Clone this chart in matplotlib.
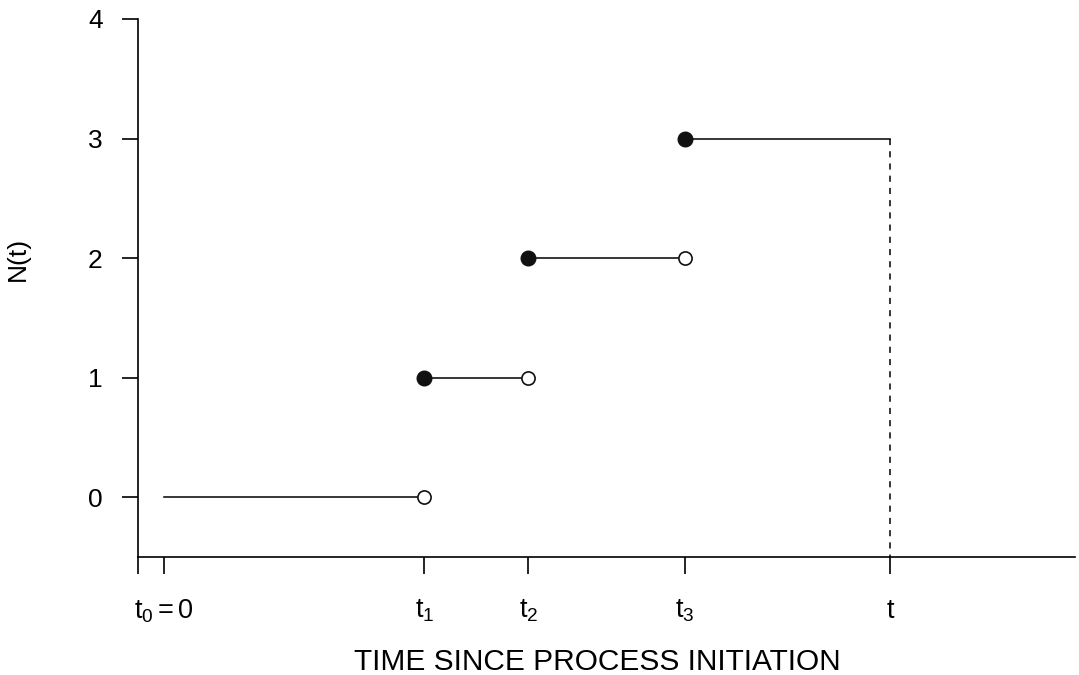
import matplotlib
matplotlib.use('Agg')
import matplotlib.pyplot as plt

plt.rcParams['font.family'] = ['Liberation Sans', 'DejaVu Sans']
plt.rcParams['mathtext.fontset'] = 'custom'
plt.rcParams['mathtext.rm'] = 'Liberation Sans'
plt.rcParams['mathtext.it'] = 'Liberation Sans'

# event times and counts
event_times = [0, 10, 14, 20]
counts = [0, 1, 2, 3]
t_obs = 27.9
x_ticks = [-1, 0, 10, 14, 20, 27.9]
x_labels = ['', r'$\mathregular{t_0 = 0}$', r'$\mathregular{t_1}$', r'$\mathregular{t_2}$',
            r'$\mathregular{t_3}$', r'$\mathregular{t}$']
y_ticks = [0, 1, 2, 3, 4]

fig = plt.figure(figsize=(10.79, 6.75), dpi=100)
ax = fig.add_axes([0.1279, 0.1748, 0.9963 - 0.1279, 0.9719 - 0.1748])

ends = event_times[1:] + [t_obs]
for i in range(len(counts)):
    ax.plot([event_times[i], ends[i]], [counts[i], counts[i]], color='black', lw=1.1)

# filled dots at start of each step (after t0), open dots at the end
for i in range(1, len(counts)):
    ax.plot(event_times[i], counts[i], 'o', color='#111111', ms=10.5, zorder=3)
for i in range(len(counts) - 1):
    ax.plot(ends[i], counts[i], 'o', mfc='white', mec='#111111', mew=1.2, ms=9.5, zorder=3)

ax.plot([t_obs, t_obs], [counts[-1], -0.5], color='black', lw=1.1, ls=(0, (4, 4)))

ax.set_xlim(-1, 35)
ax.set_ylim(-0.5, 4)
ax.spines['top'].set_visible(False)
ax.spines['right'].set_visible(False)
ax.spines['left'].set_bounds(-0.5, 4)
ax.spines['left'].set_linewidth(1.2)
ax.spines['bottom'].set_linewidth(1.2)

ax.set_xticks(x_ticks)
ax.set_xticklabels(x_labels, fontsize=19.5)
ax.set_yticks(y_ticks)
ax.set_yticklabels([str(v) for v in y_ticks], fontsize=19)
ax.tick_params(axis='x', length=12.5, width=1.2, pad=17)
ax.tick_params(axis='y', length=11.5, width=1.2, pad=14)

ax.set_xlabel('TIME SINCE PROCESS INITIATION', fontsize=21.5)
ax.xaxis.set_label_coords(0.49, -0.17)
ax.set_ylabel('N(t)', fontsize=19)
ax.yaxis.set_label_coords(-0.115, 0.554)

fig.savefig('out.png', dpi=100)
